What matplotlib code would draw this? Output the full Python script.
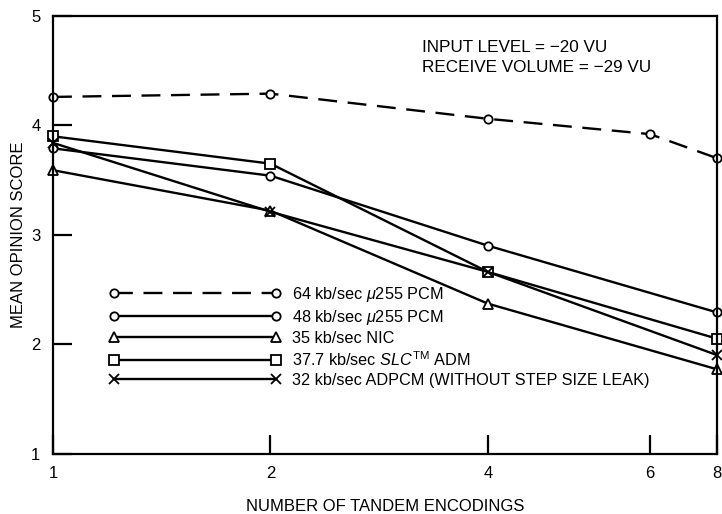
import numpy as np
import matplotlib
matplotlib.use("Agg")
import matplotlib.pyplot as plt

# === Data ===
encodings = [1, 2, 4, 6, 8]
pcm64 = [4.26, 4.29, 4.06, 3.92, 3.70]

enc_short = [1, 2, 4, 8]
pcm48 = [3.79, 3.54, 2.90, 2.29]
nic35 = [3.59, 3.22, 2.37, 1.77]
slc377 = [3.90, 3.65, 2.66, 2.05]
adpcm32 = [3.84, 3.21, 2.66, 1.90]

x_ticks = [1, 2, 4, 6, 8]
y_ticks = [1, 2, 3, 4, 5]

# non-uniform x axis as drawn in the original
axis_pts = [1, 2, 4, 6, 8]
axis_pos = [0, 1, 2, 2.745, 3.053]


def fwd(v):
    return np.interp(v, axis_pts, axis_pos)


def inv(v):
    return np.interp(v, axis_pos, axis_pts)


plt.rcParams["font.family"] = ["Liberation Sans", "DejaVu Sans"]
plt.rcParams["mathtext.fontset"] = "custom"
plt.rcParams["mathtext.rm"] = "Liberation Sans"
plt.rcParams["mathtext.it"] = "Liberation Sans:italic"

fig = plt.figure(figsize=(7.22, 5.14), dpi=100)
ax = fig.add_axes([0.0734, 0.1177, 0.9196, 0.8512])
ax.set_xscale("function", functions=(fwd, inv))

lw = 1.7
common = dict(color="black", linewidth=lw, markerfacecolor="white",
              markeredgecolor="black", markeredgewidth=1.3, clip_on=False)

ax.plot(encodings, pcm64, linestyle=(0, (8, 4.5)), marker="o", markersize=6,
        label=r"64 kb/sec $\mu$255 PCM", **common)
ax.plot(enc_short, pcm48, marker="o", markersize=6,
        label=r"48 kb/sec $\mu$255 PCM", **common)
ax.plot(enc_short, nic35, marker="^", markersize=7.5,
        label="35 kb/sec NIC", **common)
ax.plot(enc_short, slc377, marker="s", markersize=6.5,
        label=r"37.7 kb/sec $\it{SLC}^{\rm TM}$ ADM", **common)
ax.plot(enc_short, adpcm32, marker="x", markersize=7,
        label="32 kb/sec ADPCM (WITHOUT STEP SIZE LEAK)", **common)

ax.set_xlim(1, 8)
ax.set_ylim(1, 5)
ax.set_xticks(x_ticks)
ax.set_xticklabels([str(t) for t in x_ticks], fontsize=12)
ax.set_yticks(y_ticks)
ax.set_yticklabels([str(t) for t in y_ticks], fontsize=12)
ax.minorticks_off()
ax.tick_params(direction="in", length=14, width=1.6)
ax.tick_params(axis="y", pad=9)
ax.tick_params(axis="x", pad=9)

for s in ax.spines.values():
    s.set_linewidth(1.6)

ax.set_xlabel("NUMBER OF TANDEM ENCODINGS", fontsize=12, labelpad=13)
ax.set_ylabel("MEAN OPINION SCORE", fontsize=12, labelpad=4)

ax.text(0.556, 0.929, "INPUT LEVEL = \u221220 VU", transform=ax.transAxes,
        fontsize=12.3, va="center", ha="left")
ax.text(0.556, 0.883, "RECEIVE VOLUME = \u221229 VU", transform=ax.transAxes,
        fontsize=12.3, va="center", ha="left")

leg = ax.legend(loc="upper left", bbox_to_anchor=(0.074, 0.40), frameon=False,
                numpoints=2, handlelength=10.6, handletextpad=0.7,
                labelspacing=0.25, fontsize=11.7, borderaxespad=0)

fig.savefig("out.png", dpi=100)
plt.close(fig)
